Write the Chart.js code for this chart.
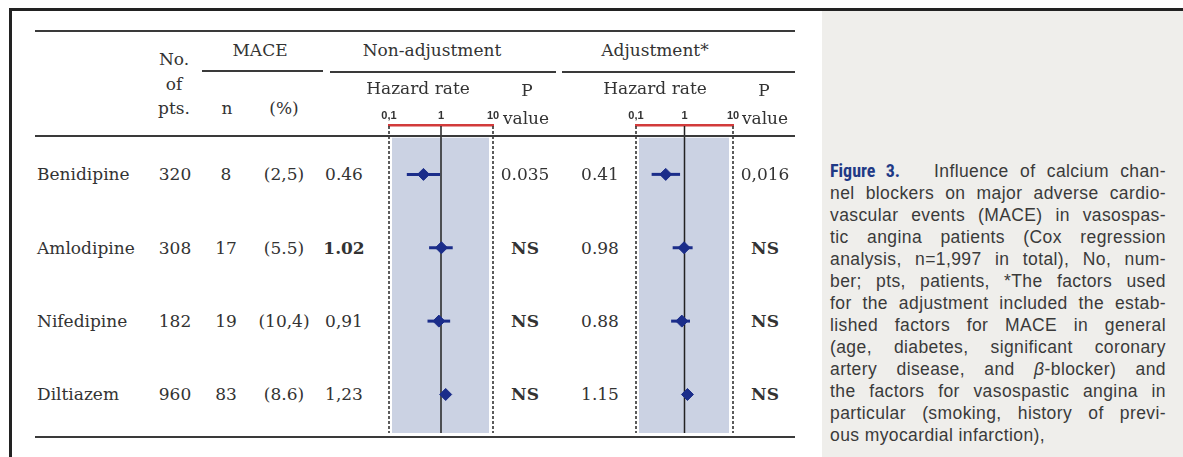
<!DOCTYPE html>
<html><head><meta charset="utf-8">
<script src="https://cdn.jsdelivr.net/npm/chart.js@4.4.1/dist/chart.umd.min.js"></script>
<style>
html,body{margin:0;padding:0;background:#fff;}
#fig{position:relative;width:1183px;height:457px;overflow:hidden;background:#fff;font-family:"DejaVu Serif",serif;color:#333;}
.t{position:absolute;white-space:nowrap;font-size:17px;line-height:1;transform:translate(-50%,-50%);z-index:6;}
.l{transform:translate(0,-50%);}
.b{font-weight:bold;}
.rule{position:absolute;height:2px;background:#3a3a3a;z-index:5;}
.frame{position:absolute;background:#222;z-index:5;}
canvas{position:absolute;z-index:2;}
#capbg{position:absolute;left:822px;top:11px;width:361px;height:446px;background:#efeeeb;}
.cl{position:absolute;left:830px;width:336px;height:22px;line-height:22px;font-family:"Liberation Sans",Arial,sans-serif;font-size:17.5px;letter-spacing:0.4px;color:#3a3a3a;text-align:justify;text-align-last:justify;white-space:nowrap;}
.cl.last{text-align-last:left;}
.fig3{font-family:"Liberation Sans Narrow","Roboto Condensed","Liberation Sans",sans-serif;font-weight:bold;color:#1f3a86;font-size:18px;letter-spacing:0;}
</style></head>
<body>
<div id="fig">
  <div id="capbg"></div>
  <div class="frame" style="left:9px;top:8px;width:1174px;height:3px;"></div>
  <div class="frame" style="left:9px;top:8px;width:3px;height:449px;"></div>
  <div class="rule" style="left:35px;top:30px;width:760px;"></div>
  <div class="rule" style="left:202px;top:70px;width:121px;"></div>
  <div class="rule" style="left:330px;top:71px;width:226px;"></div>
  <div class="rule" style="left:562px;top:71px;width:233px;"></div>
  <div class="rule" style="left:35px;top:135px;width:760px;"></div>
  <div class="rule" style="left:35px;top:436px;width:760px;"></div>
  <canvas id="c1" width="128" height="345" style="left:377px;top:95px;"></canvas>
  <canvas id="c2" width="121" height="345" style="left:624px;top:95px;"></canvas>
</div>
<script>
// ---- data ----
const drugs = ['Benidipine','Amlodipine','Nifedipine','Diltiazem'];
const nPts = ['320','308','182','960'];
const maceN = ['8','17','19','83'];
const macePct = ['(2,5)','(5.5)','(10,4)','(8.6)'];
const hrNonAdjText = ['0.46','1.02','0,91','1,23'];
const pNonAdj = ['0.035','NS','NS','NS'];
const hrAdjText = ['0.41','0.98','0.88','1.15'];
const pAdj = ['0,016','NS','NS','NS'];
const hrNonAdj = [0.46, 1.02, 0.91, 1.23];
const ciNonAdjLo = [0.22, 0.59, 0.55, 1.0];
const ciNonAdjHi = [0.96, 1.68, 1.5, 1.5];
const hrAdj = [0.41, 0.98, 0.88, 1.15];
const ciAdjLo = [0.21, 0.57, 0.53, 0.95];
const ciAdjHi = [0.81, 1.47, 1.3, 1.4];
const tickVals = [0.1, 1, 10];
const tickLabels = ['0,1', '1', '10'];
const captionLines = [
  '<span class="fig3">Figure 3.</span>&nbsp;&nbsp; Influence of calcium chan-',
  'nel blockers on major adverse cardio-',
  'vascular events (MACE) in vasospas-',
  'tic angina patients (Cox regression',
  'analysis, n=1,997 in total), No, num-',
  'ber; pts, patients, *The factors used',
  'for the adjustment included the estab-',
  'lished factors for MACE in general',
  '(age, diabetes, significant coronary',
  'artery disease, and <i>β</i>-blocker) and',
  'the factors for vasospastic angina in',
  'particular (smoking, history of previ-',
  'ous myocardial infarction),'
];

// ---- style ----
const navy = '#1b2d8a';
const yMin = -0.673, yMax = 3.525;

const refPlugin = {
  id: 'ref',
  beforeDatasetsDraw(chart) {
    const {ctx, chartArea: a, scales: {x, y}} = chart;
    const x0 = x.getPixelForValue(tickVals[0]);
    const x1 = x.getPixelForValue(tickVals[1]);
    const x2 = x.getPixelForValue(tickVals[2]);
    const bandTop = y.getPixelForValue(-0.5);
    ctx.save();
    ctx.fillStyle = '#cbd2e3';
    ctx.fillRect(x0 + 3, bandTop, (x2 - 4) - (x0 + 3), a.bottom - bandTop);
    ctx.strokeStyle = '#333';
    ctx.lineWidth = 1.6;
    ctx.setLineDash([3, 2]);
    [x0, x2].forEach(px => { ctx.beginPath(); ctx.moveTo(px, a.top + 1); ctx.lineTo(px, a.bottom); ctx.stroke(); });
    ctx.setLineDash([]);
    ctx.strokeStyle = '#222';
    ctx.lineWidth = 1.5;
    ctx.beginPath(); ctx.moveTo(x1, a.top + 1); ctx.lineTo(x1, a.bottom); ctx.stroke();
    ctx.restore();
  }
};

function makeChart(id, hr, lo, hi) {
  const datasets = [{
    data: hr.map((v, i) => ({x: v, y: i})),
    pointStyle: 'rectRot', pointRadius: 6, pointHoverRadius: 6,
    backgroundColor: navy, borderColor: navy, borderWidth: 1
  }].concat(lo.map((l, i) => ({
    data: [{x: l, y: i}, {x: hi[i], y: i}],
    showLine: true, borderColor: navy, borderWidth: 3, pointRadius: 0
  })));
  return new Chart(document.getElementById(id), {
    type: 'scatter',
    data: {datasets},
    options: {
      responsive: false, animation: false, devicePixelRatio: 1, events: [],
      layout: {padding: {left: 12, right: 12, top: 0, bottom: 3}},
      plugins: {legend: {display: false}, tooltip: {enabled: false}},
      scales: {
        x: {
          type: 'logarithmic', position: 'top', min: 0.1, max: 10,
          afterBuildTicks: s => { s.ticks = tickVals.map(v => ({value: v})); },
          afterFit: s => { s.height = 30; },
          grid: {display: false, drawTicks: false},
          border: {display: true, color: '#d23b3b', width: 2.5},
          ticks: {
            autoSkip: false, maxRotation: 0, padding: 2, color: '#333',
            font: {family: '"Liberation Sans", Arial, sans-serif', weight: 'bold', size: 11},
            callback: (v, i) => tickLabels[i]
          }
        },
        y: {type: 'linear', display: false, reverse: true, min: yMin, max: yMax}
      }
    },
    plugins: [refPlugin]
  });
}

const ch1 = makeChart('c1', hrNonAdj, ciNonAdjLo, ciNonAdjHi);
const ch2 = makeChart('c2', hrAdj, ciAdjLo, ciAdjHi);

// ---- text ----
const fig = document.getElementById('fig');
function put(txt, x, y, cls) {
  const d = document.createElement('div');
  d.className = 't' + (cls ? ' ' + cls : '');
  d.style.left = x + 'px'; d.style.top = y + 'px';
  d.innerHTML = txt;
  fig.appendChild(d);
}
// header
put('No.', 174, 59); put('of', 174, 84); put('pts.', 174, 108);
put('MACE', 260, 50); put('n', 227, 108); put('(%)', 284, 108);
put('Non-adjustment', 432, 50); put('Hazard rate', 418, 88);
put('P', 527, 90); put('value', 526, 118);
put('Adjustment*', 655, 50); put('Hazard rate', 655, 88);
put('P', 764, 90); put('value', 765, 118);
// rows: vertical positions from the chart's own y scale
const top1 = 95;
drugs.forEach((d, i) => {
  const y = ch1.scales.y.getPixelForValue(i) + top1;
  put(d, 37, y, 'l');
  put(nPts[i], 175, y);
  put(maceN[i], 226, y);
  put(macePct[i], 284, y);
  put(hrNonAdjText[i], 344, y, hrNonAdjText[i] === '1.02' ? 'b' : '');
  put(pNonAdj[i], 525, y, pNonAdj[i] === 'NS' ? 'b' : '');
  put(hrAdjText[i], 600, y);
  put(pAdj[i], 765, y, pAdj[i] === 'NS' ? 'b' : '');
});
// caption
captionLines.forEach((s, k) => {
  const d = document.createElement('div');
  d.className = 'cl' + (k === captionLines.length - 1 ? ' last' : '');
  d.style.top = (171 + k * 22 - 11) + 'px';
  d.innerHTML = s;
  fig.appendChild(d);
});
</script>
</body></html>
